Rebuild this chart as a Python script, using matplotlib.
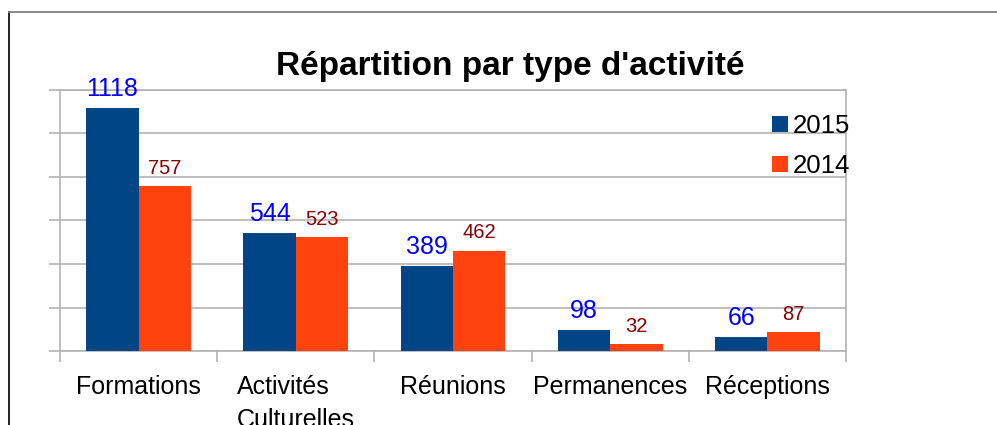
import matplotlib.pyplot as plt
import numpy as np
from matplotlib.lines import Line2D

plt.rcParams['font.family'] = ['Liberation Sans', 'DejaVu Sans']

categories = ["Formations", "Activités\nCulturelles", "Réunions", "Permanences", "Réceptions"]
values_2015 = [1118, 544, 389, 98, 66]
values_2014 = [757, 523, 462, 32, 87]

W, H = 997, 425
fig = plt.figure(figsize=(W / 100, H / 100), dpi=100)

# axes placed in pixel terms of the reference
ax = fig.add_axes([60 / W, (H - 351) / H, (846 - 60) / W, (351 - 90) / H])

x = np.arange(len(categories)) + 0.5
w = 1 / 3
b1 = ax.bar(x - w / 2, values_2015, w, color="#004586", label="2015", zorder=3)
b2 = ax.bar(x + w / 2, values_2014, w, color="#ff420e", label="2014", zorder=3)

ax.bar_label(b1, padding=5, color="#0000ff", fontsize=18)
ax.bar_label(b2, padding=6, color="#8b0000", fontsize=14.5)

ax.set_xlim(0, len(categories))
ax.set_ylim(0, 1200)
ax.set_yticks(np.arange(0, 1201, 200))
ax.set_yticklabels([])
ax.grid(axis="y", color="#b3b3b3", linewidth=1.2, zorder=0)

ax.set_xticks(np.arange(0, len(categories) + 1))
ax.set_xticklabels([])
ax.set_xticks(x, minor=True)
ax.set_xticklabels(categories, minor=True, fontsize=18, linespacing=1.5,
                   multialignment="left", va="top")
ax.tick_params(axis="x", which="minor", length=0, pad=17)
ax.tick_params(axis="both", which="major", length=8, color="#b3b3b3", width=1.2)

for s in ax.spines.values():
    s.set_color("#b3b3b3")
    s.set_linewidth(1.2)

ax.legend(loc="upper left", bbox_to_anchor=(772 / W, (H - 114) / H),
          bbox_transform=fig.transFigure, frameon=False, fontsize=18.5,
          handlelength=0.62, handleheight=0.62, handletextpad=0.2,
          labelspacing=0.62, borderpad=0, borderaxespad=0)

fig.text(510 / W, (H - 75) / H, "Répartition par type d'activité",
         fontsize=24, fontweight="bold", ha="center", va="baseline")

# outer frame of the chart object
fig.add_artist(Line2D([8.5 / W, 8.5 / W], [0, (H - 12) / H], color="#111111",
                      linewidth=1.3, transform=fig.transFigure))
fig.add_artist(Line2D([8.5 / W, 1], [(H - 12) / H, (H - 12) / H], color="#808080",
                      linewidth=1.3, transform=fig.transFigure))

fig.savefig("out.png", dpi=100)
